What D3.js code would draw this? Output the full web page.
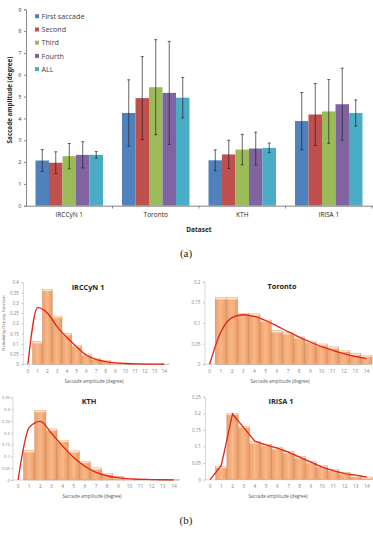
<!DOCTYPE html>
<html>
<head>
<meta charset="utf-8">
<script src="https://cdn.jsdelivr.net/npm/d3@7"></script>
<style>
body { margin: 0; background: #fff; }
svg { display: block; }
</style>
</head>
<body>
<script>
// ---- (a) mean saccade amplitude per dataset ----
const datasets = ["IRCCyN 1", "Toronto", "KTH", "IRISA 1"];
const series = ["First saccade", "Second", "Third", "Fourth", "ALL"];
const seriesColors = ["#4F81BD", "#C0504D", "#9BBB59", "#8064A2", "#4BACC6"];
const ampIrccyn = [2.07, 1.97, 2.27, 2.33, 2.33];
const ampToronto = [4.25, 4.93, 5.43, 5.17, 4.95];
const ampKth = [2.08, 2.35, 2.57, 2.62, 2.65];
const ampIrisa = [3.88, 4.18, 4.32, 4.65, 4.25];
const errIrccyn = [0.5, 0.5, 0.58, 0.6, 0.15];
const errToronto = [1.52, 1.9, 2.18, 2.36, 0.93];
const errKth = [0.48, 0.65, 0.7, 0.75, 0.22];
const errIrisa = [1.31, 1.42, 1.46, 1.65, 0.6];
const ampTicks = [0, 1, 2, 3, 4, 5, 6, 7, 8, 9];

// ---- (b) histograms of saccade amplitude + fitted pdf ----
const bins = ["0", "1", "2", "3", "4", "5", "6", "7", "8", "9", "10", "11", "12", "13", "14"];
const histIrccyn = [0, 0.11, 0.365, 0.235, 0.15, 0.093, 0.05, 0.03, 0.02, 0.01, 0.006, 0.003, 0.002, 0.001, 0.001];
const fitIrccyn = [0, 0.276, 0.25, 0.184, 0.132, 0.086, 0.045, 0.024, 0.013, 0.007, 0.004, 0.002, 0.001, 0.0005, 0.0003];
const histToronto = [0, 0.161, 0.161, 0.123, 0.122, 0.107, 0.081, 0.076, 0.066, 0.056, 0.049, 0.042, 0.034, 0.026, 0.022];
const fitToronto = [0, 0.078, 0.113, 0.12, 0.116, 0.106, 0.093, 0.079, 0.066, 0.054, 0.043, 0.034, 0.026, 0.019, 0.014];
const histKth = [0, 0.124, 0.294, 0.216, 0.168, 0.123, 0.079, 0.051, 0.028, 0.014, 0.007, 0.004, 0.002, 0.001, 0.001];
const fitKth = [0, 0.222, 0.248, 0.198, 0.144, 0.095, 0.058, 0.032, 0.018, 0.01, 0.005, 0.003, 0.002, 0.001, 0.0005];
const histIrisa = [0, 0.04, 0.2, 0.161, 0.114, 0.106, 0.096, 0.084, 0.069, 0.054, 0.042, 0.031, 0.021, 0.013, 0.008];
const fitIrisa = [0, 0.043, 0.198, 0.157, 0.116, 0.105, 0.095, 0.083, 0.068, 0.053, 0.038, 0.027, 0.018, 0.014, 0.008];
const pdfTicks1 = [0, 0.05, 0.1, 0.15, 0.2, 0.25, 0.3, 0.35, 0.4];
const pdfTicks2 = [0, 0.05, 0.1, 0.15, 0.2];
const pdfTicks3 = [0, 0.05, 0.1, 0.15, 0.2, 0.25, 0.3, 0.35];
const pdfTicks4 = [0, 0.05, 0.1, 0.15, 0.2, 0.25];

const W = 373, H = 534;
const svg = d3.select("body").append("svg").attr("width", W).attr("height", H);

function drawBars() {
  const amps = [ampIrccyn, ampToronto, ampKth, ampIrisa];
  const errs = [errIrccyn, errToronto, errKth, errIrisa];
  const x0 = d3.scaleBand().domain(datasets).range([26, 372]).paddingInner(0.22).paddingOuter(0.11);
  const x1 = d3.scaleBand().domain(series).range([0, x0.bandwidth()]);
  const y = d3.scaleLinear().domain([0, 9]).range([205.7, 9.3]);
  const g = svg.append("g");

  const groups = g.selectAll("g.grp")
    .data(datasets)
    .enter().append("g")
    .attr("transform", d => "translate(" + x0(d) + ",0)");

  groups.each(function(d, i) {
    const rows = series.map((s, j) => ({ s: s, v: amps[i][j], e: errs[i][j], c: seriesColors[j] }));
    const gg = d3.select(this);
    gg.selectAll("rect")
      .data(rows)
      .enter().append("rect")
      .attr("x", r => x1(r.s))
      .attr("y", r => y(r.v))
      .attr("width", x1.bandwidth())
      .attr("height", r => y(0) - y(r.v))
      .attr("fill", r => r.c);
    const eb = gg.selectAll("g.err").data(rows).enter().append("g")
      .attr("stroke", "#222").attr("stroke-width", 0.7);
    eb.append("line")
      .attr("x1", r => x1(r.s) + x1.bandwidth() / 2)
      .attr("x2", r => x1(r.s) + x1.bandwidth() / 2)
      .attr("y1", r => y(r.v + r.e))
      .attr("y2", r => y(r.v - r.e));
    eb.append("line")
      .attr("x1", r => x1(r.s) + x1.bandwidth() / 2 - 1.5)
      .attr("x2", r => x1(r.s) + x1.bandwidth() / 2 + 1.5)
      .attr("y1", r => y(r.v + r.e))
      .attr("y2", r => y(r.v + r.e));
    eb.append("line")
      .attr("x1", r => x1(r.s) + x1.bandwidth() / 2 - 1.5)
      .attr("x2", r => x1(r.s) + x1.bandwidth() / 2 + 1.5)
      .attr("y1", r => y(r.v - r.e))
      .attr("y2", r => y(r.v - r.e));
  });

  // y axis
  const ya = g.append("g")
    .attr("transform", "translate(26,0)")
    .call(d3.axisLeft(y).tickValues(ampTicks).tickSize(2).tickPadding(2.5));
  ya.select(".domain").attr("stroke", "#868686");
  ya.selectAll(".tick line").attr("stroke", "#868686");
  ya.selectAll("text").attr("fill", "#404040").style("font", "5.5px 'Open Sans'");

  // x axis, labels under categories, separator ticks between them
  const xa = g.append("g")
    .attr("transform", "translate(0,205.7)")
    .call(d3.axisBottom(x0).tickSize(0).tickPadding(7).tickSizeOuter(0));
  xa.select(".domain").attr("stroke", "#868686");
  xa.selectAll("text").attr("fill", "#262626").style("font", "6.5px 'Open Sans'");
  g.selectAll("line.sep")
    .data(datasets)
    .enter().append("line")
    .attr("x1", d => x0(d) + x0.bandwidth() + x0.step() * x0.paddingInner() / 2)
    .attr("x2", d => x0(d) + x0.bandwidth() + x0.step() * x0.paddingInner() / 2)
    .attr("y1", 205.7).attr("y2", 208.5)
    .attr("stroke", "#868686");

  g.append("text")
    .attr("x", 199).attr("y", 231.5)
    .attr("text-anchor", "middle")
    .style("font", "bold 6.5px 'Open Sans'")
    .attr("fill", "#262626")
    .text("Dataset");
  g.append("text")
    .attr("transform", "translate(11.5,100) rotate(-90)")
    .attr("text-anchor", "middle")
    .style("font", "bold 6.3px 'Open Sans'")
    .attr("fill", "#262626")
    .text("Saccade amplitude (degree)");

  // legend
  const lg = g.selectAll("g.leg")
    .data(series)
    .enter().append("g")
    .attr("transform", (d, i) => "translate(35," + (16.3 + i * 13.2) + ")");
  lg.append("rect")
    .attr("x", 0).attr("y", -2).attr("width", 4).attr("height", 4)
    .attr("fill", (d, i) => seriesColors[i]);
  lg.append("text")
    .attr("x", 6.5).attr("y", 2.6)
    .style("font", "7.2px 'Open Sans'")
    .attr("fill", "#404040")
    .text(d => d);
}

function drawHist(p) {
  const x = d3.scaleBand().domain(bins).range([p.x0, p.x1]).padding(0);
  const y = d3.scaleLinear().domain([0, p.ticks[p.ticks.length - 1]]).range([p.yb, p.yt]);
  const g = svg.append("g");
  const rows = bins.map((b, i) => ({ b: b, v: p.hist[i], f: p.fit[i] }));

  g.selectAll("rect.bar")
    .data(rows.filter(r => r.v > 0))
    .enter().append("rect")
    .attr("class", "bar")
    .attr("x", r => x(r.b))
    .attr("y", r => y(r.v))
    .attr("width", x.bandwidth())
    .attr("height", r => y(0) - y(r.v))
    .attr("fill", "url(#barGrad)")
    .attr("stroke", "#C98A5C")
    .attr("stroke-width", 0.5);
  g.selectAll("rect.cap")
    .data(rows.filter(r => r.v > 0))
    .enter().append("rect")
    .attr("class", "cap")
    .attr("x", r => x(r.b) + 0.3)
    .attr("y", r => y(r.v))
    .attr("width", x.bandwidth() - 0.6)
    .attr("height", r => Math.min(1.6, y(0) - y(r.v)))
    .attr("fill", "#FDE6C6");

  const ya = g.append("g")
    .attr("transform", "translate(" + p.ax + ",0)")
    .call(d3.axisLeft(y).tickValues(p.ticks).tickFormat(d => d === 0 ? "0" : String(+d.toFixed(2))).tickSize(1.5).tickPadding(p.tp || 2.5));
  ya.select(".domain").attr("stroke", "#BFBFBF").attr("stroke-width", 0.6);
  ya.selectAll(".tick line").attr("stroke", "#BFBFBF");
  ya.selectAll("text").attr("fill", "#7F7F7F").style("font", (p.tf || 4.6) + "px 'Open Sans'");

  const xa = g.append("g")
    .attr("transform", "translate(0," + p.yb + ")")
    .call(d3.axisBottom(x).tickSize(0).tickPadding(5).tickSizeOuter(0));
  xa.select(".domain").attr("stroke", "#BFBFBF").attr("stroke-width", 0.6)
    .attr("d", "M" + p.ax + ",0H" + p.x1);
  xa.selectAll("text").attr("fill", "#7F7F7F").style("font", "4.8px 'Open Sans'");

  const line = d3.line()
    .x(r => x(r.b) + x.bandwidth() / 2)
    .y(r => y(r.f))
    .curve(p.smooth ? d3.curveMonotoneX : d3.curveLinear);
  g.append("path")
    .datum(rows)
    .attr("d", line)
    .attr("fill", "none")
    .attr("stroke", "#E3231C")
    .attr("stroke-width", 1.3);

  g.append("text")
    .attr("x", p.tx).attr("y", p.ty)
    .attr("text-anchor", "middle")
    .style("font", "bold 7.3px 'Open Sans'")
    .attr("fill", "#262626")
    .text(p.title);
  g.append("text")
    .attr("x", p.xtx).attr("y", p.xty)
    .attr("text-anchor", "middle")
    .style("font", "4.6px 'Open Sans'")
    .attr("fill", "#595959")
    .text("Saccade amplitude (degree)");
  if (p.ylabel) {
    g.append("text")
      .attr("transform", "translate(4.5," + ((p.yb + p.yt) / 2) + ") rotate(-90)")
      .attr("text-anchor", "middle")
      .style("font", "4.3px 'Open Sans'")
      .attr("fill", "#595959")
      .text("Probability Density Function");
  }
}

const defs = svg.append("defs");
const grad = defs.append("linearGradient").attr("id", "barGrad")
  .attr("x1", 0).attr("x2", 1).attr("y1", 0).attr("y2", 0);
grad.append("stop").attr("offset", "0%").attr("stop-color", "#EFA06A");
grad.append("stop").attr("offset", "50%").attr("stop-color", "#F8B88A");
grad.append("stop").attr("offset", "100%").attr("stop-color", "#EC9A63");

drawBars();

svg.append("text").attr("x", 186).attr("y", 257).attr("text-anchor", "middle")
  .style("font", "11px 'Liberation Serif'").attr("fill", "#222").text("(a)");

drawHist({ hist: histIrccyn, fit: fitIrccyn, ticks: pdfTicks1, title: "IRCCyN 1", smooth: true,
  ax: 23, x0: 23, x1: 169, yb: 364.3, yt: 282.3, tx: 88, ty: 290, xtx: 94, xty: 382.5, ylabel: true });
drawHist({ hist: histToronto, fit: fitToronto, ticks: pdfTicks2, title: "Toronto", smooth: true,
  ax: 204.5, x0: 204, x1: 372, yb: 364.3, yt: 281.7, tx: 282, ty: 288.5, xtx: 280, xty: 382.5 });
drawHist({ hist: histKth, fit: fitKth, ticks: pdfTicks3, title: "KTH", smooth: true,
  ax: 12.5, x0: 12.5, x1: 179.5, yb: 480, yt: 397.3, tx: 89, ty: 403.5, xtx: 92, xty: 498, tp: 1, tf: 4.2 });
drawHist({ hist: histIrisa, fit: fitIrisa, ticks: pdfTicks4, title: "IRISA 1", smooth: false,
  ax: 205, x0: 204.5, x1: 372.5, yb: 479.7, yt: 396.7, tx: 281, ty: 403.5, xtx: 278, xty: 498 });

svg.append("text").attr("x", 186).attr("y", 524).attr("text-anchor", "middle")
  .style("font", "11px 'Liberation Serif'").attr("fill", "#222").text("(b)");
</script>
</body>
</html>
